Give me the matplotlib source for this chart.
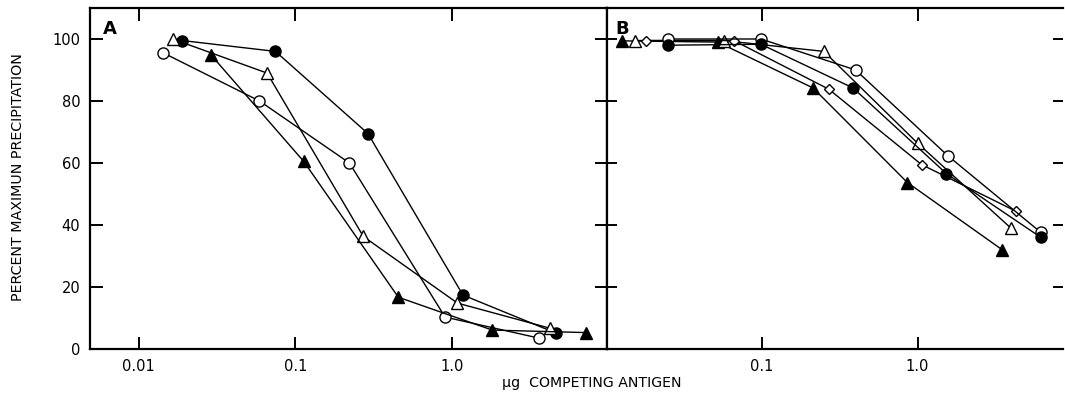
"""
Competition curves, panels A and B: percent of maximum precipitation
against amount of competing antigen (log scale).
"""

import matplotlib
matplotlib.use('Agg')
import matplotlib.pyplot as plt
from matplotlib.ticker import FixedLocator, NullLocator


# ---- panel A data (x in ug, y in percent) ----
a_open_circle_x = [0.0144, 0.059, 0.221, 0.90, 3.58]
a_open_circle_y = [95.5, 80, 60, 10.3, 3.5]

a_filled_circle_x = [0.019, 0.0746, 0.29, 1.17, 4.6]
a_filled_circle_y = [99.5, 96, 69.5, 17.4, 5.1]

a_open_tri_x = [0.0165, 0.066, 0.271, 1.08, 4.2]
a_open_tri_y = [100, 89, 36.3, 14.8, 6.7]

a_filled_tri_x = [0.0288, 0.113, 0.453, 1.8, 7.1]
a_filled_tri_y = [95, 60.5, 16.7, 6.1, 5.3]

# ---- panel B data ----
b_filled_tri_x = [0.0127, 0.052, 0.213, 0.86, 3.5]
b_filled_tri_y = [99.4, 99, 84.2, 53.7, 32]

b_open_tri_x = [0.0153, 0.057, 0.25, 1.0, 4.0]
b_open_tri_y = [99.5, 99.5, 96, 66.4, 38.9]

b_diamond_x = [0.018, 0.066, 0.269, 1.06, 4.3]
b_diamond_y = [99.5, 99.5, 83.8, 59.5, 44.4]

b_open_circle_x = [0.025, 0.0986, 0.40, 1.56, 6.2]
b_open_circle_y = [100, 100, 90, 62.4, 37.6]

b_filled_circle_x = [0.025, 0.0986, 0.385, 1.53, 6.2]
b_filled_circle_y = [98, 98.3, 84.2, 56.6, 36]

y_ticks = [0, 20, 40, 60, 80, 100]
a_x_ticks = [0.01, 0.1, 1.0]
a_x_labels = ['0.01', '0.1', '1.0']
b_x_ticks = [0.1, 1.0]
b_x_labels = ['0.1', '1.0']


plt.rcParams['font.family'] = ['DejaVu Sans']

fig = plt.figure(figsize=(10.65, 4.01), dpi=100)
W, H = 1065.0, 401.0
bottom = 1 - 349 / H
height = (349 - 8) / H
ax_a = fig.add_axes([90 / W, bottom, (607 - 90) / W, height])
ax_b = fig.add_axes([607 / W, bottom, (1063 - 607) / W, height])


def draw_series(ax, xs, ys, marker, filled, size=8):
    ax.plot(
        xs, ys,
        color='black',
        linewidth=1.0,
        marker=marker,
        markersize=size,
        markerfacecolor='black' if filled else 'white',
        markeredgecolor='black',
        markeredgewidth=1.0,
        clip_on=False,
    )


draw_series(ax_a, a_open_circle_x, a_open_circle_y, 'o', False)
draw_series(ax_a, a_filled_circle_x, a_filled_circle_y, 'o', True)
draw_series(ax_a, a_open_tri_x, a_open_tri_y, '^', False, 8.5)
draw_series(ax_a, a_filled_tri_x, a_filled_tri_y, '^', True, 8.5)

draw_series(ax_b, b_filled_tri_x, b_filled_tri_y, '^', True, 8.5)
draw_series(ax_b, b_open_tri_x, b_open_tri_y, '^', False, 8.5)
draw_series(ax_b, b_diamond_x, b_diamond_y, 'D', False, 5)
draw_series(ax_b, b_open_circle_x, b_open_circle_y, 'o', False)
draw_series(ax_b, b_filled_circle_x, b_filled_circle_y, 'o', True)

for ax in (ax_a, ax_b):
    ax.set_xscale('log')
    ax.set_ylim(0, 110)
    ax.xaxis.set_minor_locator(NullLocator())
    for side in ('top', 'bottom', 'left', 'right'):
        ax.spines[side].set_linewidth(1.6)

ax_a.set_xlim(0.0049, 9.7)
ax_b.set_xlim(0.0101, 8.6)

ax_a.xaxis.set_major_locator(FixedLocator(a_x_ticks))
ax_a.set_xticklabels(a_x_labels)
ax_b.xaxis.set_major_locator(FixedLocator(b_x_ticks))
ax_b.set_xticklabels(b_x_labels)

ax_a.set_yticks(y_ticks)
ax_a.set_yticklabels([str(v) for v in y_ticks])
ax_b.set_yticks(y_ticks)

ax_a.tick_params(axis='both', direction='in', length=9, width=1.4,
                 top=True, right=True, labelsize=10.5, pad=7)
ax_b.tick_params(axis='both', direction='in', length=9, width=1.4,
                 top=True, right=True, left=True,
                 labelleft=False, labelsize=10.5, pad=7)
ax_b.tick_params(axis='y', which='major', right=True, length=7)
ax_b.spines['right'].set_visible(False)

ax_a.text(0.025, 0.965, 'A', transform=ax_a.transAxes, fontsize=13,
          fontweight='bold', va='top', ha='left')
ax_b.text(0.018, 0.965, 'B', transform=ax_b.transAxes, fontsize=13,
          fontweight='bold', va='top', ha='left')

fig.text(18 / W, 1 - 177 / H, 'PERCENT MAXIMUN PRECIPITATION',
         rotation=90, ha='center', va='center', fontsize=10.3)
fig.text(592 / W, 1 - 383 / H, 'μg  COMPETING ANTIGEN',
         ha='center', va='center', fontsize=10.2)

fig.savefig('out.png', dpi=100)
